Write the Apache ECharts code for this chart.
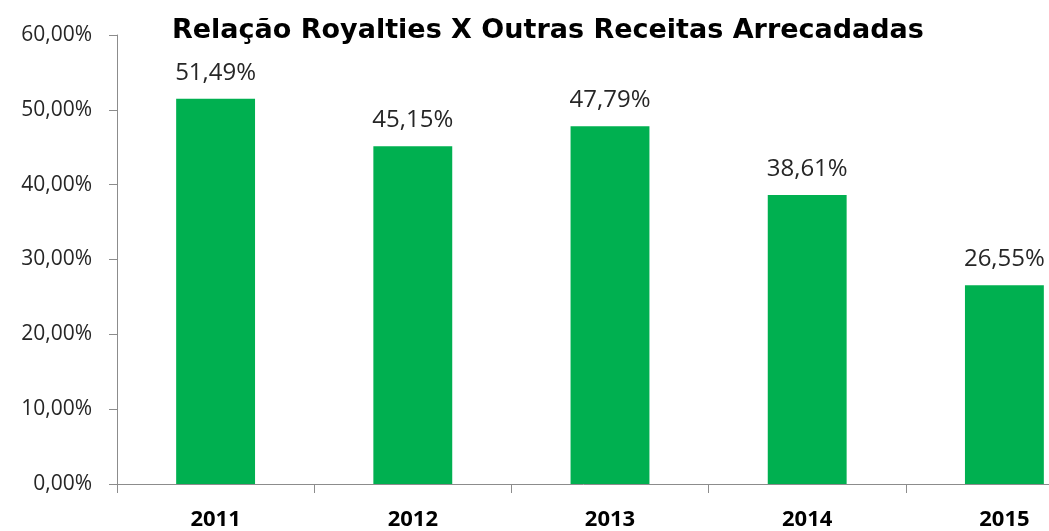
<!DOCTYPE html>
<html>
<head>
<meta charset="utf-8">
<script src="https://cdn.jsdelivr.net/npm/echarts@6/dist/echarts.min.js"></script>
<style>
  html, body { margin: 0; padding: 0; background: #fff; }
  #main { width: 1049px; height: 531px; }
</style>
</head>
<body>
<div id="main"></div>
<script>
// dados do gráfico
const anos = ['2011', '2012', '2013', '2014', '2015']
const relacao = [51.49, 45.15, 47.79, 38.61, 26.55] // % royalties x outras receitas
const yMin = 0
const yMax = 60
const yStep = 10

// 51.49 -> "51,49%"
const fmtPct = v => v.toFixed(2).replace('.', ',') + '%'

const chart = echarts.init(document.getElementById('main'), null, { renderer: 'canvas' })

chart.setOption({
  animation: false,
  backgroundColor: '#fff',
  title: {
    text: 'Relação Royalties X Outras Receitas Arrecadadas',
    left: 172,
    top: 17,
    padding: 0,
    textStyle: {
      fontFamily: 'DejaVu Sans',
      fontWeight: 'bold',
      fontSize: 27,
      color: '#000'
    }
  },
  grid: {
    left: 117,
    top: 35,
    width: 986, // a última categoria sai do quadro como no original
    height: 449,
    outerBoundsMode: 'none'
  },
  xAxis: {
    type: 'category',
    data: anos,
    axisLine: { lineStyle: { color: '#8c8c8c', width: 1 } },
    axisTick: { show: true, length: 9, lineStyle: { color: '#8c8c8c' } },
    axisLabel: {
      margin: 25,
      fontFamily: 'Open Sans',
      fontWeight: 'bold',
      fontSize: 22,
      color: '#000'
    }
  },
  yAxis: {
    type: 'value',
    min: yMin,
    max: yMax,
    interval: yStep,
    axisLine: { show: true, lineStyle: { color: '#8c8c8c', width: 1 } },
    axisTick: { show: true, length: 8, lineStyle: { color: '#8c8c8c' } },
    splitLine: { show: false },
    axisLabel: {
      margin: 25,
      fontFamily: 'Open Sans',
      fontSize: 21,
      color: '#262626',
      formatter: v => fmtPct(v)
    }
  },
  series: [{
    type: 'bar',
    data: relacao,
    barWidth: '40%',
    itemStyle: { color: '#00b050' },
    label: {
      show: true,
      position: 'top',
      distance: 14,
      fontFamily: 'Open Sans',
      fontSize: 24,
      color: '#262626',
      formatter: p => fmtPct(p.value)
    }
  }]
})
</script>
</body>
</html>
